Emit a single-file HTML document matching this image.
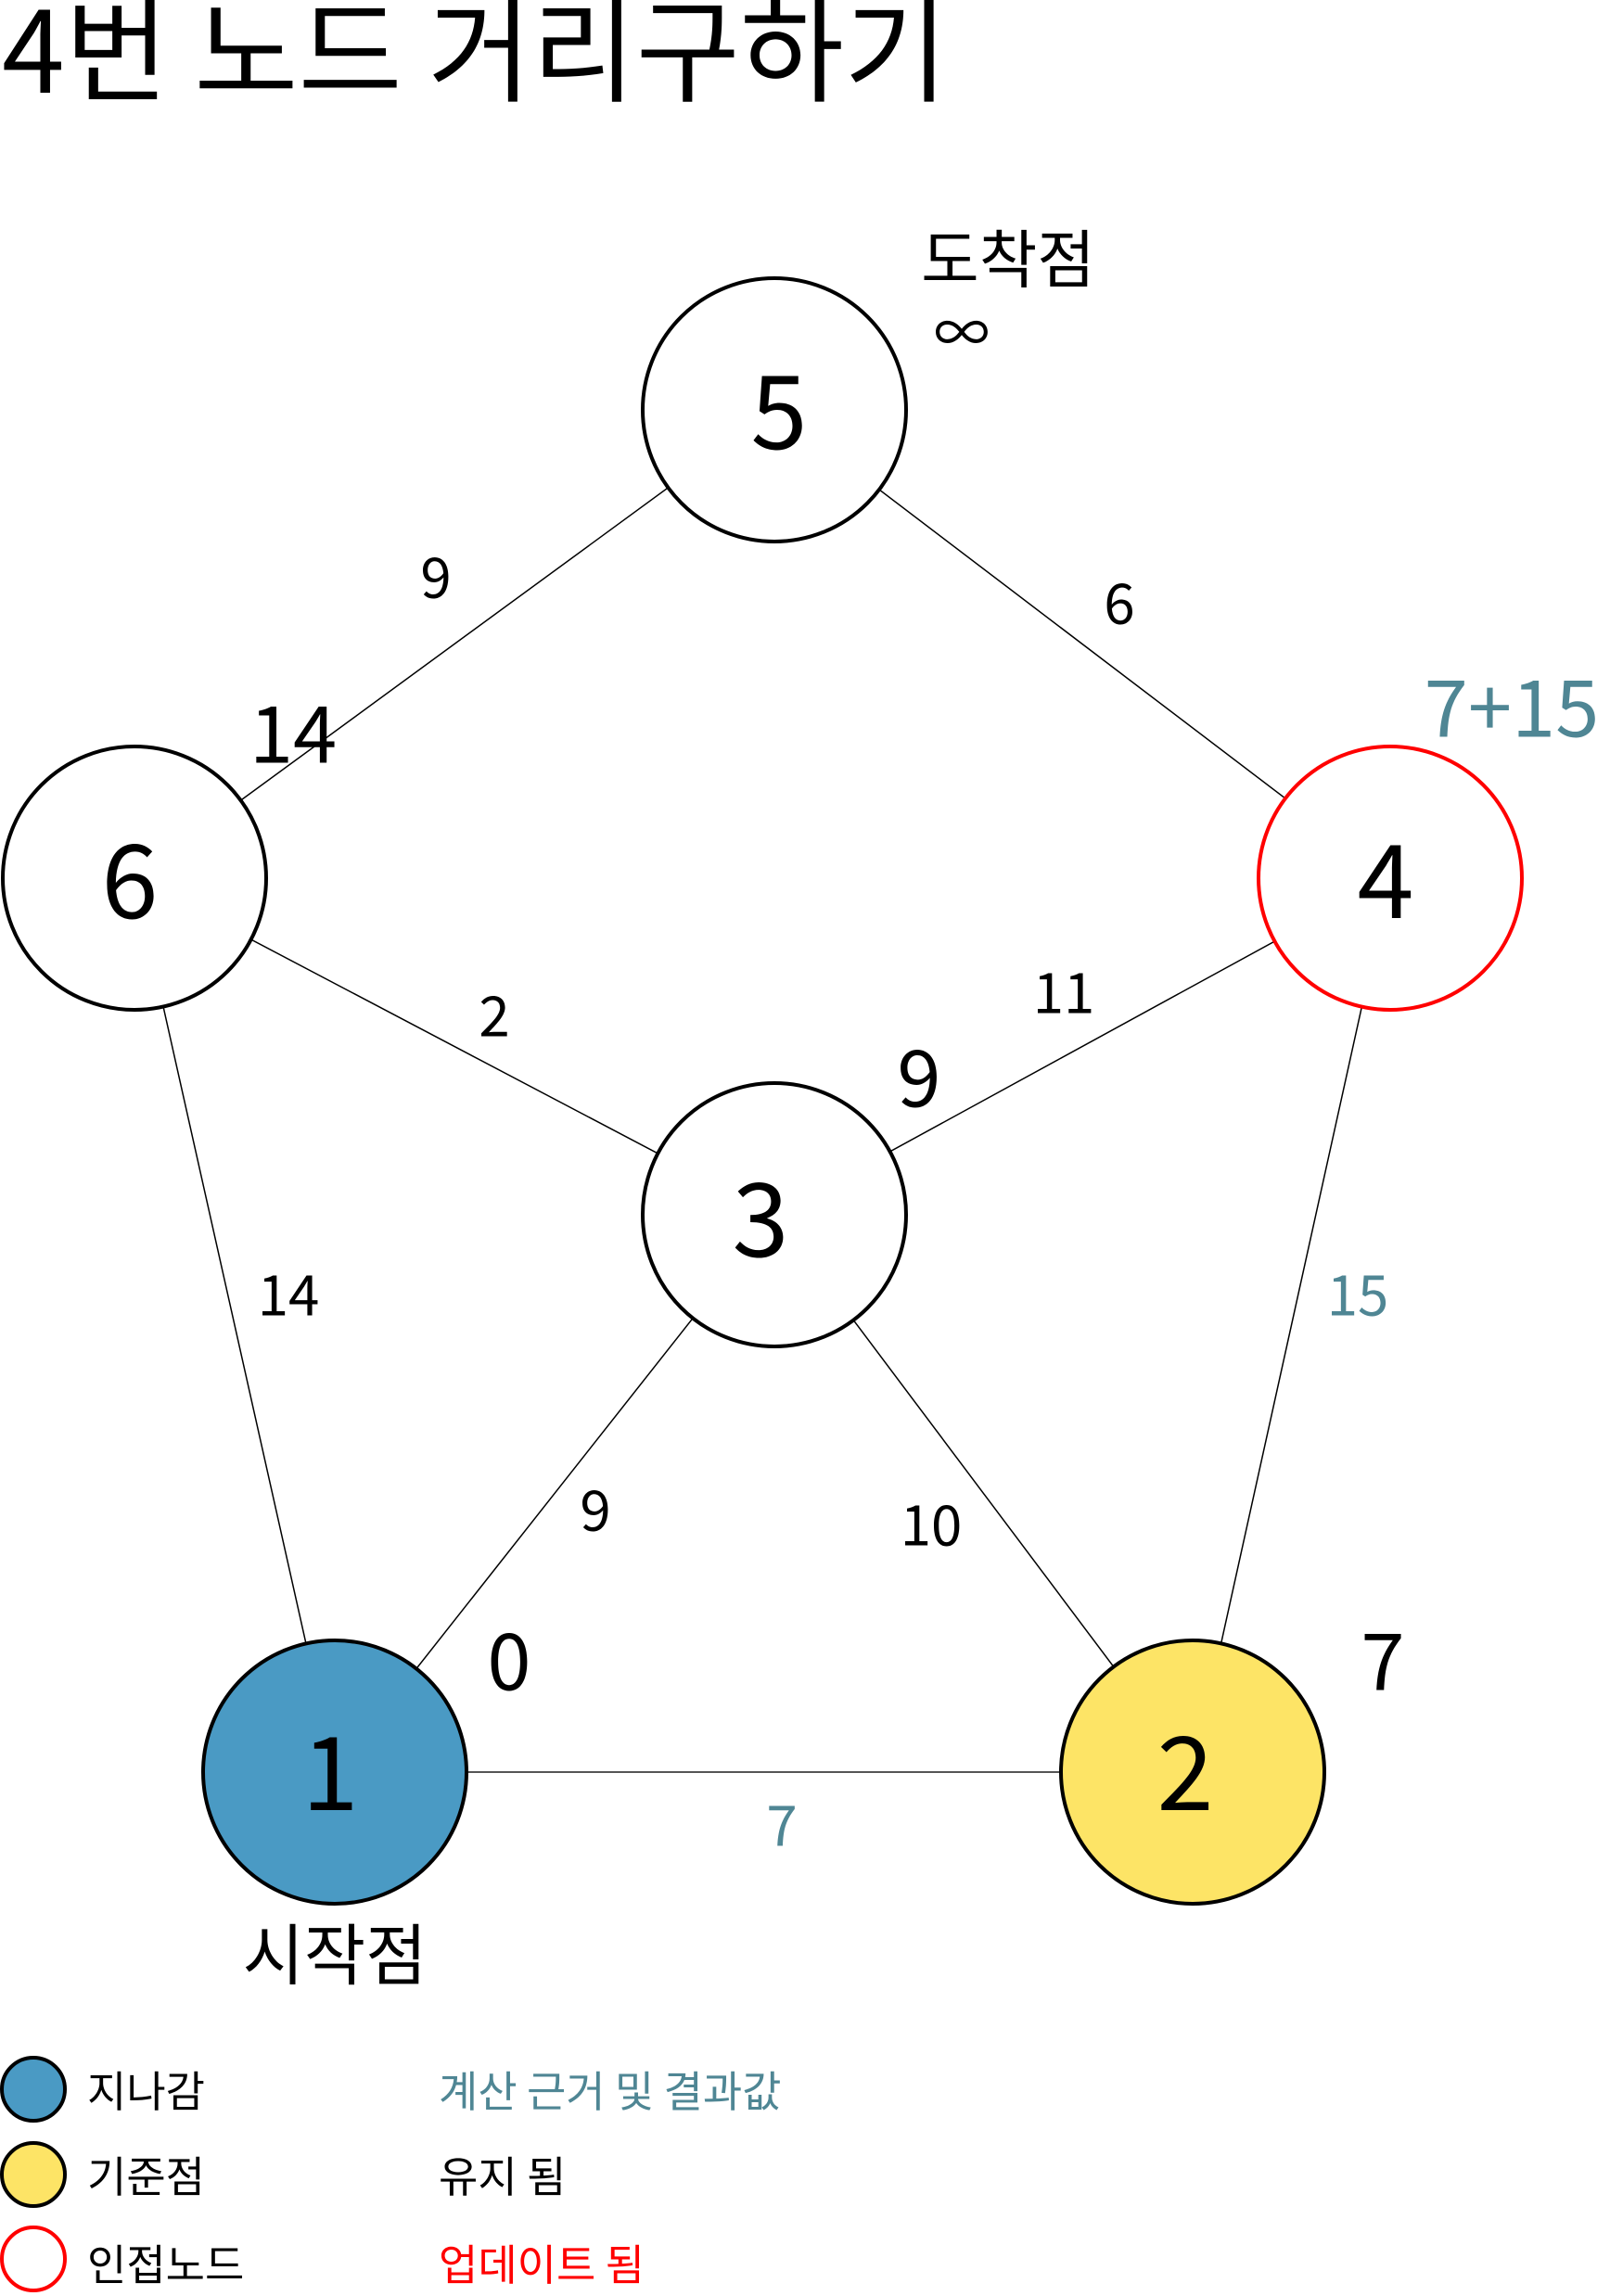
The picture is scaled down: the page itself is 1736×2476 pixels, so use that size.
<!DOCTYPE html>
<html><head><meta charset="utf-8"><style>
html,body{margin:0;padding:0;background:#fff;}
svg{display:block;}
text{font-family:"Noto Sans CJK KR","Liberation Sans",sans-serif;}
</style></head><body>
<svg width="1736" height="2476" viewBox="0 0 1736 2476" xmlns="http://www.w3.org/2000/svg">
<text x="2" y="100" font-size="122" fill="#000">4번 노드 거리구하기</text>
<g stroke="#000" stroke-width="1.5">
<line x1="835" y1="442" x2="145" y2="947"/>
<line x1="835" y1="442" x2="1499" y2="947"/>
<line x1="145" y1="947" x2="835" y2="1310"/>
<line x1="1499" y1="947" x2="835" y2="1310"/>
<line x1="145" y1="947" x2="361" y2="1911"/>
<line x1="1499" y1="947" x2="1286" y2="1911"/>
<line x1="835" y1="1310" x2="361" y2="1911"/>
<line x1="835" y1="1310" x2="1286" y2="1911"/>
<line x1="361" y1="1911" x2="1286" y2="1911" stroke="#555" stroke-width="2"/>
</g>
<g stroke-width="4">
<circle cx="835" cy="442" r="142" fill="#fff" stroke="#000"/>
<circle cx="145" cy="947" r="142" fill="#fff" stroke="#000"/>
<circle cx="1499" cy="947" r="142" fill="#fff" stroke="#ff0000"/>
<circle cx="835" cy="1310" r="142" fill="#fff" stroke="#000"/>
<circle cx="361" cy="1911" r="142" fill="#4a9ac4" stroke="#000"/>
<circle cx="1286" cy="1911" r="142" fill="#fde466" stroke="#000"/>
</g>
<g font-size="110" text-anchor="middle" dominant-baseline="central" fill="#000">
<text x="840" y="436">5</text>
<text x="140" y="942">6</text>
<text x="1494" y="942">4</text>
<text x="820" y="1307">3</text>
<text x="356" y="1904">1</text>
<text x="1278" y="1904">2</text>
</g>
<g font-size="60" text-anchor="middle" dominant-baseline="central" fill="#000">
<text x="470" y="619">9</text>
<text x="1207" y="647">6</text>
<text x="1147" y="1067">11</text>
<text x="533" y="1092">2</text>
<text x="311" y="1393">14</text>
<text x="642" y="1625">9</text>
<text x="1004" y="1641">10</text>
<text x="1464" y="1393" fill="#4f8694">15</text>
<text x="843" y="1965" fill="#4f8694">7</text>
</g>
<g font-size="85" text-anchor="middle" dominant-baseline="central" fill="#000">
<text x="316" y="786">14</text>
<text x="991" y="1157">9</text>
<text x="549" y="1786">0</text>
<text x="1491" y="1786">7</text>
<text x="1630" y="758" fill="#4f8694">7+15</text>
</g>
<text x="1087" y="275" font-size="68" text-anchor="middle" dominant-baseline="central">도착점</text>
<text x="1037" y="355" font-size="60" text-anchor="middle" dominant-baseline="central">∞</text>
<text x="361" y="2103" font-size="72" text-anchor="middle" dominant-baseline="central">시작점</text>
<g stroke-width="4">
<circle cx="36" cy="2253" r="34" fill="#4a9ac4" stroke="#000"/>
<circle cx="36" cy="2345" r="34" fill="#fde466" stroke="#000"/>
<circle cx="36" cy="2436" r="34" fill="#fff" stroke="#ff0000"/>
</g>
<g font-size="46" dominant-baseline="central">
<text x="94" y="2253">지나감</text>
<text x="94" y="2345">기준점</text>
<text x="94" y="2440">인접노드</text>
<text x="473" y="2253" fill="#4f8694">계산 근거 및 결과값</text>
<text x="473" y="2345">유지 됨</text>
<text x="473" y="2440" fill="#ff0000">업데이트 됨</text>
</g>
</svg>
</body></html>
